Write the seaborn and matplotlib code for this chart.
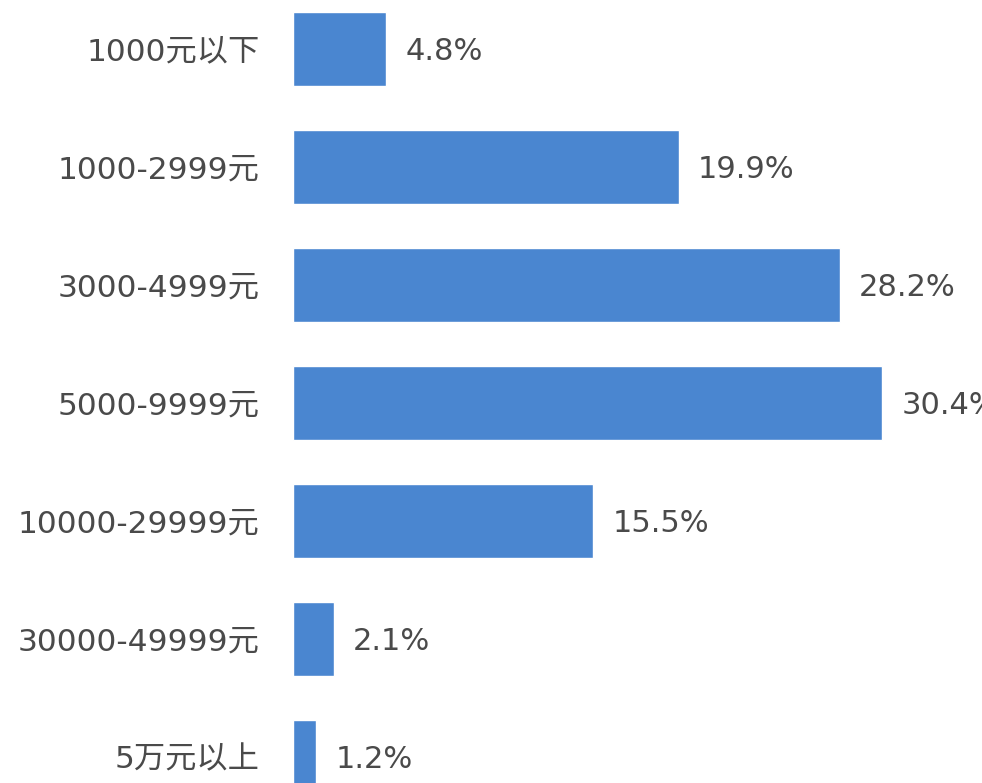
import numpy as np
import pandas as pd
import matplotlib.pyplot as plt
import seaborn as sns

# ================= DATA =================
categories = ["1000元以下", "1000-2999元", "3000-4999元", "5000-9999元",
              "10000-29999元", "30000-49999元", "5万元以上"]
shares = [4.8, 19.9, 28.2, 30.4, 15.5, 2.1, 1.2]
labels = ["4.8%", "19.9%", "28.2%", "30.4%", "15.5%", "2.1%", "1.2%"]

df = pd.DataFrame({"category": categories, "share": shares})

# ================= STYLE =================
sns.set_style("white")
plt.rcParams["font.family"] = ["DejaVu Sans", "Noto Sans CJK SC"]

BAR_COLOR = "#4a86d0"
TEXT_COLOR = "#4a4a4a"

fig = plt.figure(figsize=(9.82, 7.83), dpi=100)
ax = fig.add_axes([293 / 982, 0, 1 - 293 / 982, 1])

sns.barplot(data=df, x="share", y="category", orient="h",
            color=BAR_COLOR, saturation=1, width=0.62, ax=ax)

ax.set_xlim(0, (982 - 293) / 19.38)
ax.set_ylim(6.22, -0.415)

for i, (v, lab) in enumerate(zip(shares, labels)):
    ax.text(v + 1.0, i + 0.02, lab, va="center", ha="left",
            fontsize=22, color=TEXT_COLOR, clip_on=False)

ax.set_xlabel("")
ax.set_ylabel("")
ax.set_xticks([])
ax.tick_params(axis="y", length=0, pad=24, labelsize=22.5, labelcolor=TEXT_COLOR)
sns.despine(ax=ax, left=True, bottom=True)

fig.savefig("out.png", dpi=100)
